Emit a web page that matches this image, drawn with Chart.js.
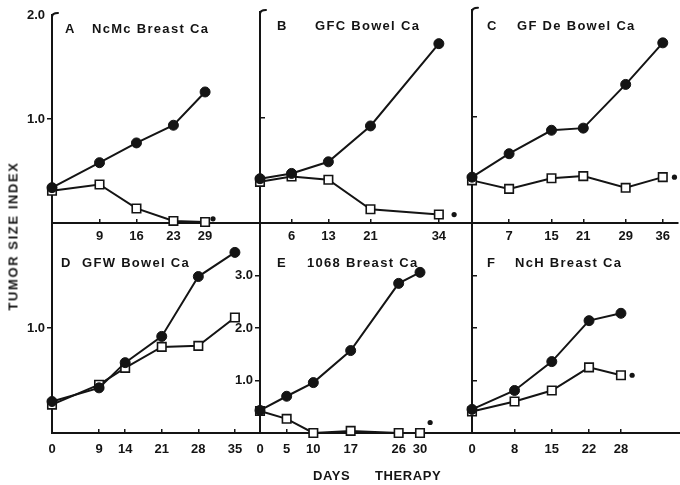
<!DOCTYPE html>
<html>
<head>
<meta charset="utf-8">
<script src="https://cdn.jsdelivr.net/npm/chart.js@4.4.1/dist/chart.umd.min.js"></script>
<style>
html,body{margin:0;padding:0;background:#fff;}
#wrap{position:relative;width:680px;height:485px;overflow:hidden;background:#fff;}
#wrap canvas{position:absolute;left:0;top:0;}
.t{position:absolute;font:bold 13px "Liberation Sans",Arial,Helvetica,sans-serif;color:#141414;letter-spacing:1.3px;white-space:nowrap;line-height:1;}
.v{position:absolute;left:13px;top:236px;transform:translate(-50%,-50%) rotate(-90deg);font:bold 13px "Liberation Sans",Arial,sans-serif;color:#141414;letter-spacing:1.6px;white-space:nowrap;line-height:1;}
</style>
</head>
<body>
<div id="wrap">
  <canvas id="c0" width="680" height="485"></canvas>
  <canvas id="c1" width="680" height="485"></canvas>
  <canvas id="c2" width="680" height="485"></canvas>
  <canvas id="c3" width="680" height="485"></canvas>
  <canvas id="c4" width="680" height="485"></canvas>
  <canvas id="c5" width="680" height="485"></canvas>

  <div class="t" style="left:65px;top:22px;">A</div>
  <div class="t" style="left:92px;top:22px;">NcMc Breast Ca</div>
  <div class="t" style="left:277px;top:19px;">B</div>
  <div class="t" style="left:315px;top:19px;">GFC Bowel Ca</div>
  <div class="t" style="left:487px;top:19px;">C</div>
  <div class="t" style="left:517px;top:19px;">GF De Bowel Ca</div>
  <div class="t" style="left:61px;top:256px;">D</div>
  <div class="t" style="left:82px;top:256px;">GFW Bowel Ca</div>
  <div class="t" style="left:277px;top:256px;">E</div>
  <div class="t" style="left:307px;top:256px;">1068 Breast Ca</div>
  <div class="t" style="left:487px;top:256px;">F</div>
  <div class="t" style="left:515px;top:256px;">NcH Breast Ca</div>

  <div class="v">TUMOR SIZE INDEX</div>
  <div class="t" style="left:313px;top:469px;letter-spacing:0.6px;">DAYS</div>
  <div class="t" style="left:375px;top:469px;letter-spacing:0.6px;">THERAPY</div>
</div>
<script>
// ---------------- data ----------------
// Panel A: NcMc Breast Ca
const daysA = [0, 9, 16, 23, 29];
const controlA = [0.34, 0.58, 0.77, 0.94, 1.26];
const treatedA = [0.31, 0.37, 0.14, 0.02, 0.01];
const sigA = [30.5, 0.04];
const xTicksA = [9, 16, 23, 29];
const yTicksA = [1.0, 2.0];

// Panel B: GFC Bowel Ca
const daysB = [0, 6, 13, 21, 34];
const controlB = [0.42, 0.47, 0.58, 0.92, 1.70];
const treatedB = [0.39, 0.44, 0.41, 0.13, 0.08];
const sigB = [36.9, 0.08];
const xTicksB = [6, 13, 21, 34];
const yTicksB = [1.0];

// Panel C: GF De Bowel Ca
const daysC = [0, 7, 15, 21, 29, 36];
const controlC = [0.43, 0.65, 0.87, 0.89, 1.30, 1.69];
const treatedC = [0.40, 0.32, 0.42, 0.44, 0.33, 0.43];
const sigC = [38.2, 0.43];
const xTicksC = [7, 15, 21, 29, 36];
const yTicksC = [1.0];

// Panel D: GFW Bowel Ca
const daysD = [0, 9, 14, 21, 28, 35];
const controlD = [0.30, 0.43, 0.67, 0.92, 1.49, 1.72];
const treatedD = [0.27, 0.46, 0.62, 0.82, 0.83, 1.10];
const xTicksD = [0, 9, 14, 21, 28, 35];
const yTicksD = [1.0];

// Panel E: 1068 Breast Ca
const daysE = [0, 5, 10, 17, 26, 30];
const controlE = [0.43, 0.70, 0.96, 1.57, 2.85, 3.06];
const treatedE = [0.42, 0.27, 0.00, 0.04, 0.00, 0.00];
const sigE = [31.9, 0.20];
const xTicksE = [0, 5, 10, 17, 26, 30];
const yTicksE = [1.0, 2.0, 3.0];

// Panel F: NcH Breast Ca
const daysF = [0, 8, 15, 22, 28];
const controlF = [0.45, 0.81, 1.36, 2.14, 2.28];
const treatedF = [0.41, 0.60, 0.81, 1.25, 1.10];
const sigF = [30.1, 1.10];
const xTicksF = [0, 8, 15, 22, 28];
const yTicksF = [1.0, 2.0, 3.0];

// ---------------- layout / style ----------------
const W = 680, H = 485;
const INK = '#141414';
const FONT = {family: '"Liberation Sans", Arial, Helvetica, sans-serif', size: 13, weight: 'bold'};
const YAXW = 30;   // room for y tick labels
const XAXH = 30;   // room for x tick labels

const panels = [
  {id:'c0', days:daysA, control:controlA, treated:treatedA, sig:sigA, xTicks:xTicksA, yTicks:yTicksA,
   xMax:39.4, yMax:2.0, box:[52,15,260,223], yIn:false, yLabels:true, hook:true, hideTick:2.0, xPad:10},
  {id:'c1', days:daysB, control:controlB, treated:treatedB, sig:sigB, xTicks:xTicksB, yTicks:yTicksB,
   xMax:40.3, yMax:2.0, box:[260,12,472,223], yIn:true, yLabels:false, hook:true, xPad:10},
  {id:'c2', days:daysC, control:controlC, treated:treatedC, sig:sigC, xTicks:xTicksC, yTicks:yTicksC,
   xMax:38.8, yMax:2.0, box:[472,8,680,223], yIn:true, yLabels:false, hook:true, xPad:10},
  {id:'c3', days:daysD, control:controlD, treated:treatedD, sig:null, xTicks:xTicksD, yTicks:yTicksD,
   xMax:39.8, yMax:2.0, box:[52,223,260,433], yIn:false, yLabels:true, hook:false, xPad:13},
  {id:'c4', days:daysE, control:controlE, treated:treatedE, sig:sigE, xTicks:xTicksE, yTicks:yTicksE,
   xMax:39.75, yMax:4.0, box:[260,223,472,433], yIn:false, yLabels:true, hook:false, xPad:13},
  {id:'c5', days:daysF, control:controlF, treated:treatedF, sig:sigF, xTicks:xTicksF, yTicks:yTicksF,
   xMax:39.1, yMax:4.0, box:[472,223,680,433], yIn:true, yLabels:false, hook:false, xPad:13}
];

// small hook at the top of the upper axes
const hookPlugin = {
  id: 'hook',
  afterDraw(chart, args, opts) {
    if (!opts || !opts.on) return;
    const a = chart.chartArea, ctx = chart.ctx;
    ctx.save();
    ctx.strokeStyle = INK;
    ctx.lineWidth = 2;
    ctx.lineCap = 'round';
    ctx.beginPath();
    ctx.moveTo(a.left, a.top + 2);
    ctx.quadraticCurveTo(a.left, a.top - 2, a.left + 6, a.top - 2);
    ctx.stroke();
    ctx.restore();
  }
};

function toXY(xs, ys) { return xs.map((x, i) => ({x: x, y: ys[i]})); }

function makeChart(p) {
  const datasets = [
    {label:'Control', data: toXY(p.days, p.control), borderColor: INK, backgroundColor: INK,
     borderWidth: 2, tension: 0, pointStyle: 'circle', pointRadius: 5, pointBorderWidth: 1,
     pointBackgroundColor: INK, pointBorderColor: INK, clip: false},
    {label:'Treated', data: toXY(p.days, p.treated), borderColor: INK, backgroundColor: '#fff',
     borderWidth: 2, tension: 0, pointStyle: 'rect', pointRadius: 6, pointBorderWidth: 1.6,
     pointBackgroundColor: '#fff', pointBorderColor: INK, clip: false}
  ];
  if (p.sig) {
    datasets.push({label:'significant', data:[{x:p.sig[0], y:p.sig[1]}], showLine:false,
      pointStyle:'circle', pointRadius:2.6, pointBackgroundColor: INK, pointBorderColor: INK,
      pointBorderWidth: 0, clip:false});
  }
  new Chart(document.getElementById(p.id), {
    type: 'line',
    data: {datasets: datasets},
    options: {
      responsive: false, animation: false, devicePixelRatio: 1,
      layout: {autoPadding: false,
               padding: {left: p.box[0] - YAXW, top: p.box[1], right: W - p.box[2], bottom: H - p.box[3] - XAXH}},
      plugins: {legend: {display: false}, tooltip: {enabled: false}, hook: {on: p.hook}},
      scales: {
        x: {
          type: 'linear', position: 'bottom', min: 0, max: p.xMax,
          afterFit: s => { s.height = XAXH; },
          afterBuildTicks: s => { s.ticks = p.xTicks.map(v => ({value: v})); },
          grid: {display: true, drawOnChartArea: false, drawTicks: true, tickLength: -4, lineWidth: 1.5, color: INK},
          border: {display: true, width: 2, color: INK},
          ticks: {autoSkip: false, maxRotation: 0, minRotation: 0, padding: p.xPad, color: INK, font: FONT,
                  callback: v => String(v)}
        },
        y: {
          type: 'linear', position: 'left', min: 0, max: p.yMax,
          afterFit: s => { s.width = YAXW; },
          afterBuildTicks: s => { s.ticks = p.yTicks.map(v => ({value: v})); },
          grid: {display: true, drawOnChartArea: false, drawTicks: true, tickLength: p.yIn ? -5 : 5, lineWidth: 1.5,
                 color: ctx => (p.hideTick !== undefined && ctx.tick && ctx.tick.value === p.hideTick) ? 'rgba(0,0,0,0)' : INK},
          border: {display: true, width: 2, color: INK},
          ticks: {autoSkip: false, padding: 2, color: INK, font: FONT,
                  callback: v => p.yLabels ? Number(v).toFixed(1) : ''}
        }
      }
    },
    plugins: [hookPlugin]
  });
}

panels.forEach(makeChart);
</script>
</body>
</html>
